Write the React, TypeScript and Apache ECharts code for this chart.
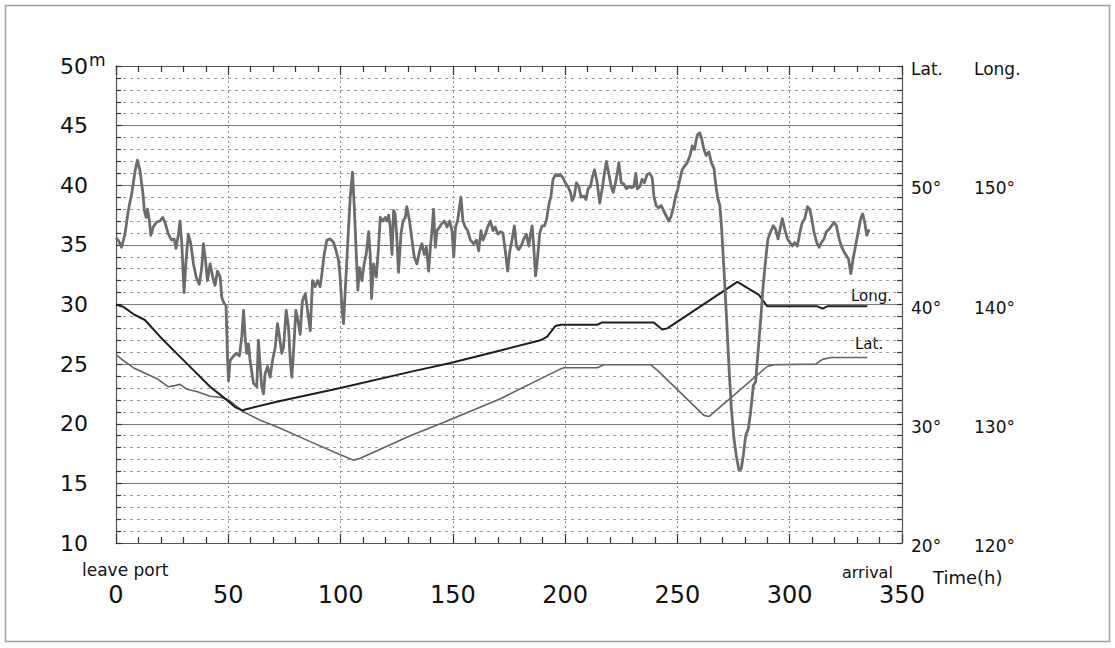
import React, { useEffect, useRef } from "react";
import * as echarts from "echarts";

// Wave height (m) against time (h)
const waveHeight: [number, number][] = [
  [0, 35.6], [1, 35.4], [2.5, 34.8], [4, 35.9], [5.5, 37.9], [7, 39.3], [8.5, 41.2], [9.5, 42.1], [10.7, 41.2], [12, 39.3],
  [12.6, 37.9], [13.4, 37.3], [14, 38], [14.9, 37], [15.5, 35.8], [16.6, 36.5], [18, 36.9], [19.6, 37], [20.8, 37.3], [21.8, 36.9],
  [23.3, 35.9], [24.8, 35.4], [25.9, 35.5], [26.7, 34.7], [27.8, 35.9], [28.5, 37], [29.3, 35.1], [30.3, 31.0], [31.2, 33.7], [32.2, 35.9],
  [33.3, 35.1], [34.5, 33.4], [35.7, 32.3], [37.1, 31.7], [38.2, 33.1], [38.9, 35.1], [39.7, 34.0], [40.7, 32.0], [41.9, 33.4], [43.1, 32.3],
  [44.1, 31.6], [45.2, 32.8], [46.4, 32.3], [47.1, 30.6], [48.1, 30.1], [49, 29.9], [49.6, 25.9], [50.1, 23.6], [50.8, 25.3], [52, 25.6],
  [53.5, 25.9], [55, 25.7], [56, 27.3], [56.8, 29.5], [57.5, 27.3], [58.2, 25.9], [59, 26.7], [59.7, 25.3], [61.2, 23.4], [62.7, 23.1],
  [63.4, 27], [64.2, 24.8], [64.9, 23.1], [65.7, 22.5], [66.4, 24.2], [67.5, 24.8], [68.6, 23.9], [69.7, 25.3], [70.9, 26.4], [71.9, 28.4],
  [72.8, 27.3], [73.8, 25.9], [74.6, 26.4], [75.8, 29.5], [76.8, 28.1], [77.6, 25.3], [78.3, 23.9], [79, 25.9], [80.1, 29.5], [81, 28.7],
  [82, 27.5], [83, 30.3], [84.3, 30.9], [86.5, 27.8], [87.5, 32.0], [88.7, 31.5], [89.7, 32.0], [90.9, 31.5], [91.7, 32.6], [92.7, 34.2],
  [93.9, 35.4], [95.4, 35.5], [96.9, 35.2], [98, 34.5], [99.1, 33.7], [99.8, 32.3], [100.6, 29.8], [101.3, 28.4], [102, 30.9], [103.1, 34.8],
  [104.3, 39], [105.3, 41.1], [106.1, 38.2], [107, 34.2], [107.7, 31.2], [108.4, 33.1], [109.5, 32], [110.5, 33.4], [111.4, 34.2], [112.5, 36.1],
  [113.2, 34.2], [113.8, 30.5], [114.7, 33.4], [115.9, 32.3], [116.9, 34.8], [117.7, 37.3], [118.8, 37], [119.9, 37.3], [120.6, 37], [121.4, 37.5],
  [122.1, 36.5], [122.9, 34.2], [123.6, 37.9], [124.3, 37.6], [125.1, 35.4], [125.8, 32.7], [126.9, 35.9], [127.8, 37], [128.8, 37.3], [129.5, 38.2],
  [130.7, 37], [131.8, 35.4], [132.8, 34], [134, 33.4], [135.2, 34.5], [136.2, 35.1], [137.3, 34.2], [138.2, 34.8], [139.2, 32.8], [140, 34.8],
  [140.7, 36.2], [141.4, 38], [142.2, 34.8], [142.9, 36.2], [144.1, 36.5], [145.1, 36.8], [146.2, 37], [147.4, 36.5], [148.6, 37], [149.6, 36.2],
  [150.4, 34], [151.2, 36.5], [152.1, 37], [153, 38.2], [153.6, 39], [154.5, 37], [155.5, 36.5], [156.6, 36.2], [157.8, 35.4], [159.3, 35.1],
  [160.5, 35.4], [161.5, 34.5], [162.5, 36.2], [163.4, 35.4], [164.5, 35.9], [165.5, 36.5], [166.7, 37], [167.9, 36.2], [168.9, 36.5], [170, 35.9],
  [171.2, 36.1], [172.3, 36], [173.4, 34.4], [174.4, 32.8], [175.3, 34.4], [176.4, 35.5], [177.4, 36.6], [178.3, 34.9], [179.3, 34.6], [180.4, 34.9],
  [181.6, 35.5], [182.7, 35.9], [183.8, 34.9], [184.5, 35.8], [185.3, 36.6], [186, 34.9], [186.8, 32.4], [187.5, 33.5], [188.7, 36], [189.7, 36.6],
  [190.8, 36.6], [191.7, 37.1], [192.7, 38.3], [193.7, 39.1], [194.6, 40.5], [195.7, 40.9], [196.7, 40.8], [197.9, 40.9], [199.1, 40.6], [200.1, 40.2],
  [201.2, 39.9], [202.4, 39.4], [203.1, 38.7], [204.1, 39.1], [205, 40.2], [206.1, 39.9], [207.1, 39], [208.3, 39.1], [209.3, 38.8], [210.2, 39.7],
  [211.3, 39.9], [212, 40.6], [213.1, 41.3], [214.2, 40.3], [215.4, 38.5], [216.5, 39.7], [217.5, 41], [218.4, 42], [219.4, 41], [220.5, 39.9],
  [221.4, 39.4], [222.4, 40.2], [223.2, 41], [223.9, 41.9], [225, 40.2], [226.1, 40.1], [227.3, 39.7], [228.4, 39.9], [229.4, 39.8], [230.6, 39.9],
  [231.5, 41], [232.1, 39.7], [233.3, 39.9], [234.3, 40.5], [235.3, 40.2], [236.5, 40.9], [237.7, 41], [238.8, 40.6], [239.5, 39.1], [240.5, 38.3],
  [241.7, 38.1], [242.8, 38.3], [244, 37.8], [245.1, 37.4], [246.2, 37], [247.2, 37.4], [248.4, 38.3], [249.2, 39.1], [250.2, 39.7], [251.1, 40.5],
  [252.1, 41.3], [253.2, 41.6], [254.4, 41.9], [255.6, 42.5], [256.6, 43.3], [257.6, 43], [258.8, 44.2], [259.9, 44.4], [260.8, 43.9], [261.8, 43],
  [262.8, 42.5], [264, 42.8], [265.1, 41.9], [266.3, 41.4], [267.3, 39.7], [268, 38.9], [268.9, 38.3], [269.7, 36.3], [270.7, 33], [271.9, 28.8],
  [273, 24.6], [274, 21.3], [275.2, 18.7], [276.4, 17.1], [277.4, 16.1], [278.4, 16.2], [279.3, 17.3], [280.4, 19], [281.6, 19.6], [282.6, 21],
  [283.8, 23.2], [284.8, 23.5], [285.9, 26], [287.1, 28.8], [288.2, 31.6], [289.3, 33.8], [290.3, 35.5], [291.5, 36.1], [292.7, 36.6], [293.7, 36.3],
  [294.8, 35.5], [295.7, 36.3], [296.7, 37.2], [297.8, 36.3], [299, 35.5], [300.1, 35.2], [301.2, 34.9], [302.2, 35.2], [303.4, 34.9], [304.6, 36.1],
  [305.6, 36.9], [306.7, 37.2], [307.9, 38.2], [308.9, 38], [309.8, 37.2], [310.8, 36.1], [312, 35.2], [313.1, 34.8], [314.1, 35.2], [315.3, 35.5],
  [316.3, 36.1], [317.5, 36.3], [318.6, 36.6], [319.8, 36.9], [320.8, 36.6], [322, 35.5], [323, 34.9], [324.2, 34.4], [325.2, 34.1], [326.2, 33.8],
  [327.2, 32.6], [328.2, 33.8], [329.3, 34.9], [330.5, 36.1], [331.6, 37.2], [332.5, 37.6], [333.4, 36.9], [334.3, 35.8], [335.4, 36.3],
];

// Longitude (degrees E) against time (h)
const longitude: [number, number][] = [
  [0, 140.0], [3.3, 139.8], [7.7, 139.2], [12.9, 138.7], [19.6, 137.3], [27, 135.9], [34.5, 134.5], [41.9, 133.1],
  [49.3, 132.0], [53, 131.4], [56.5, 131.1], [57.5, 131.2], [71.6, 131.85], [99.9, 133.0], [131, 134.35], [148.9, 135.1],
  [171.2, 136.15], [189, 137.0], [192, 137.3], [195.7, 138.2], [198, 138.3], [214.3, 138.3], [216.5, 138.5], [239.5, 138.5],
  [243.2, 137.9], [245.5, 138.0], [276.7, 141.9], [286.3, 140.8], [290, 139.85], [312.3, 139.85], [314.6, 139.65],
  [316.8, 139.85], [334.6, 139.85],
];

// Latitude (degrees N) against time (h)
const latitude: [number, number][] = [
  [0, 35.8], [3.3, 35.3], [7.7, 34.7], [12.2, 34.3], [18.1, 33.8], [23.3, 33.1], [26.3, 33.2], [28.5, 33.3], [31.5, 32.9],
  [36, 32.7], [41.9, 32.3], [47.1, 32.2], [50.1, 32.0], [56.8, 31.0], [64.2, 30.3], [71.6, 29.75], [86.5, 28.5], [99.9, 27.4],
  [105.8, 26.95], [108.8, 27.1], [131, 29.0], [145.8, 30.1], [171.2, 32.1], [198, 34.6], [199.4, 34.7], [214.3, 34.7],
  [217.2, 34.95], [238, 34.95], [241, 34.5], [261.8, 30.7], [264, 30.6], [267.8, 31.2], [290, 34.8], [293, 34.95],
  [311.6, 35.0], [314.6, 35.4], [318.3, 35.55], [334.6, 35.55],
];

const latTickLabels = ["20°", "30°", "40°", "50°", "Lat."];
const longTickLabels = ["120°", "130°", "140°", "150°", "Long."];

const FONT = "DejaVu Sans";

export default function App() {
  const ref = useRef<HTMLDivElement>(null);

  useEffect(() => {
    if (!ref.current) return;
    const chart = echarts.init(ref.current, null, { renderer: "svg" });
    const dashed = { type: [3, 4] as any, color: "#9a9a9a", width: 1 };
    const tickStyle = { color: "#333", width: 1.2 };

    chart.setOption({
      animation: false,
      backgroundColor: "#ffffff",
      grid: { left: 116, right: 213, top: 66, bottom: 105, containLabel: false },
      xAxis: [
        {
          type: "value",
          position: "bottom",
          min: 0,
          max: 350,
          interval: 50,
          axisLine: { show: true, onZero: false, lineStyle: { color: "#555", width: 1.2 } },
          axisTick: { show: true, inside: true, length: 9, lineStyle: tickStyle },
          minorTick: { show: true, splitNumber: 5, length: 6, lineStyle: tickStyle },
          splitLine: { show: true, lineStyle: { type: [2, 3], color: "#8f8f8f", width: 1 } },
          axisLabel: { fontFamily: FONT, fontSize: 24, color: "#111", margin: 40 },
        },
        {
          type: "value",
          position: "top",
          min: 0,
          max: 350,
          interval: 50,
          axisLine: { show: true, onZero: false, lineStyle: { color: "#555", width: 1.2 } },
          axisTick: { show: true, inside: true, length: 9, lineStyle: tickStyle },
          minorTick: { show: true, splitNumber: 5, length: 6, lineStyle: tickStyle },
          splitLine: { show: false },
          axisLabel: { show: false },
        },
      ],
      yAxis: [
        {
          type: "value",
          position: "left",
          min: 10,
          max: 50,
          interval: 5,
          axisLine: { show: true, onZero: false, lineStyle: { color: "#555", width: 1.2 } },
          axisTick: { show: true, inside: true, length: 6, lineStyle: tickStyle },
          minorTick: { show: true, splitNumber: 5, length: 5, lineStyle: tickStyle },
          splitLine: { show: true, lineStyle: { color: "#7a7a7a", width: 1 } },
          minorSplitLine: { show: true, lineStyle: dashed },
          axisLabel: { fontFamily: FONT, fontSize: 22, color: "#111", margin: 28, padding: [8, 0, 0, 0] },
        },
        {
          type: "value",
          position: "right",
          min: 20,
          max: 60,
          interval: 10,
          axisLine: { show: true, onZero: false, lineStyle: { color: "#555", width: 1.2 } },
          axisTick: { show: true, inside: true, length: 5, lineStyle: tickStyle },
          minorTick: { show: true, splitNumber: 10, length: 5, lineStyle: tickStyle },
          splitLine: { show: false },
          axisLabel: {
            margin: 9,
            color: "#111",
            formatter: (v: number) => {
              const i = Math.round((v - 20) / 10);
              return `{a|${latTickLabels[i]}}{b|${longTickLabels[i]}}`;
            },
            rich: {
              a: { fontFamily: FONT, fontSize: 17, color: "#111", width: 63, padding: [6, 0, 0, 0] },
              b: { fontFamily: FONT, fontSize: 17, color: "#111", padding: [6, 0, 0, 0] },
            },
          },
        },
        { type: "value", min: 120, max: 160, show: false },
      ],
      series: [
        {
          name: "Lat.",
          type: "line",
          yAxisIndex: 1,
          data: latitude,
          showSymbol: false,
          lineStyle: { color: "#626262", width: 1.6 },
        },
        {
          name: "Long.",
          type: "line",
          yAxisIndex: 2,
          data: longitude,
          showSymbol: false,
          lineStyle: { color: "#1e1e1e", width: 2 },
        },
        {
          name: "Wave height",
          type: "line",
          yAxisIndex: 0,
          data: waveHeight,
          showSymbol: false,
          lineStyle: { color: "#6c6c6c", width: 2.8, join: "round" },
        },
      ],
      graphic: [
        {
          type: "rect",
          shape: { x: 5.5, y: 5.5, width: 1104, height: 636 },
          style: { fill: "none", stroke: "#a0a0a0", lineWidth: 1.5 },
          silent: true,
        },
        { type: "text", left: 89, top: 51, style: { text: "m", fontFamily: FONT, fontSize: 17, fill: "#111" } },
        { type: "text", left: 82, top: 561, style: { text: "leave port", fontFamily: FONT, fontSize: 17, fill: "#111" } },
        { type: "text", left: 842, top: 564, style: { text: "arrival", fontFamily: FONT, fontSize: 16, fill: "#111" } },
        { type: "text", left: 933, top: 568, style: { text: "Time(h)", fontFamily: FONT, fontSize: 18, fill: "#111" } },
        { type: "text", left: 851, top: 288, style: { text: "Long.", fontFamily: FONT, fontSize: 15, fill: "#111" } },
        { type: "text", left: 855, top: 336, style: { text: "Lat.", fontFamily: FONT, fontSize: 15, fill: "#111" } },
      ],
    });
    return () => chart.dispose();
  }, []);

  return (
    <div
      ref={ref}
      style={{ position: "absolute", left: 0, top: 0, width: 1115, height: 648, background: "#fff" }}
    />
  );
}
